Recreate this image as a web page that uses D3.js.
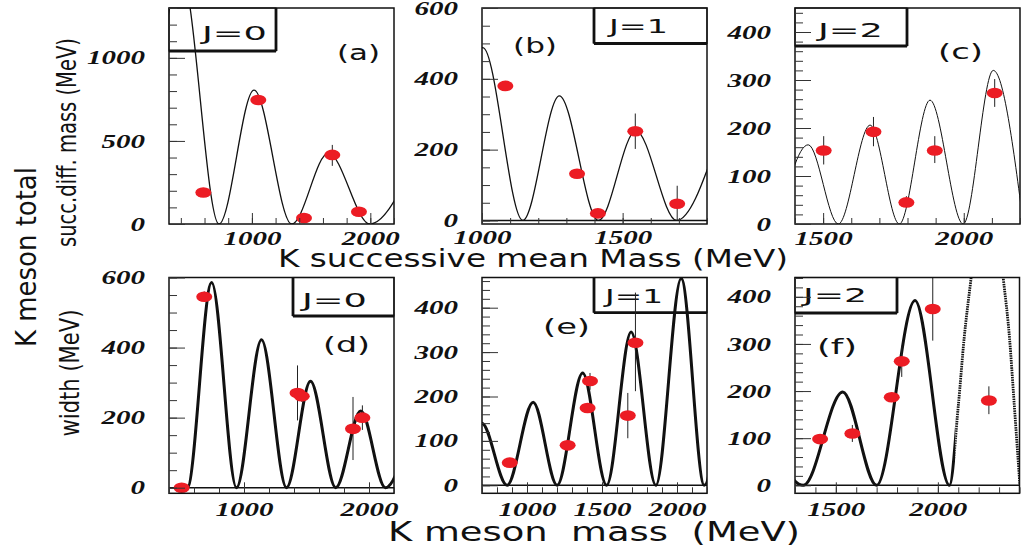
<!DOCTYPE html>
<html>
<head>
<meta charset="utf-8">
<script src="https://cdn.jsdelivr.net/npm/d3@7"></script>
<style>
  html, body { margin: 0; padding: 0; background: #fff; }
  svg { display: block; }
</style>
</head>
<body>
<svg id="chart" width="1025" height="553"></svg>
<script>
// ---------------------------------------------------------------
// Curves: [mass (MeV), value (MeV)] at zeros and extrema of each oscillation
// Points: [mass (MeV), value (MeV), lower error end, upper error end]
// ---------------------------------------------------------------
const curveA = [[87,0],[406,1500],[722,0],[1018,806],[1336,0],[1645,426],[1997,0],[2320,290]];
const pointsA = [[590,190,190,190],[1054,746,728,766],[1440,36,36,36],[1679,416,350,476],[1904,74,74,74]];

const curveB = [[855,0],[1003,488],[1145,0],[1275,352],[1414,0],[1547,253],[1692,0],[1827,200]];
const pointsB = [[1083,380,380,380],[1338,132,132,132],[1412,20,20,20],[1545,252,202,302],[1694,47,0,98]];

const curveC = [[1340,0],[1447,165],[1554,0],[1667,206],[1771,0],[1880,258],[1998,0],[2105,320],[2212,0]];
const pointsC = [[1502,153,124,183],[1679,192,162,223],[1796,45,35,58],[1897,153,127,183],[2110,273,244,302]];

const curveD = [[480,0],[546,0],[741,586],[940,0],[1140,422],[1340,0],[1532,304],[1734,0],[1934,219],[2131,0],[2330,165]];
const pointsD = [[501,0,0,0],[682,545,535,560],[1428,270,192,349],[1462,261,245,280],[1872,168,79,259],[1947,200,165,235]];

const curveE = [[530,0],[698,140],[867,0],[1041,187],[1201,0],[1371,253],[1531,0],[1694,345],[1859,0],[2028,466],[2182,0],[2345,620]];
const pointsE = [[885,51,51,51],[1271,90,90,90],[1404,174,174,174],[1420,235,215,253],[1672,157,106,208],[1723,321,212,434]];

const curveF = [[1150,140],[1341,0],[1534,198],[1700,0],[1888,392],[2057,0],[2101,173],[2129,313],[2162,437],[2240,720],[2321,437],[2351,313],[2374,173],[2402,0]];
const pointsF = [[1423,98,98,98],[1581,110,92,128],[1774,187,187,187],[1823,263,230,296],[1975,374,307,441],[2250,180,151,210]];

// Tick labels per panel
const xTicksA = [1000, 2000],        yTicksA = [0, 500, 1000];
const xTicksB = [1000, 1500],        yTicksB = [0, 200, 400, 600];
const xTicksC = [1500, 2000],        yTicksC = [0, 100, 200, 300, 400];
const xTicksD = [1000, 2000],        yTicksD = [0, 200, 400, 600];
const xTicksE = [1000, 1500, 2000],  yTicksE = [0, 100, 200, 300, 400];
const xTicksF = [1500, 2000],        yTicksF = [0, 100, 200, 300, 400];

const spinLabels = ["J=0", "J=1", "J=2", "J=0", "J=1", "J=2"];
const panelTags = ["(a)", "(b)", "(c)", "(d)", "(e)", "(f)"];

// ---------------------------------------------------------------
// Layout
// ---------------------------------------------------------------
const RED = "#ec1c24";
const SANS = "'DejaVu Sans', 'Liberation Sans', sans-serif";
const NARROW = "'Liberation Sans Narrow', 'DejaVu Sans Condensed', 'Liberation Sans', sans-serif";
const NUMF = "'Liberation Serif', 'Times New Roman', serif";
const fmt = d3.format("d");

const panels = [
  { curve: curveA, pts: pointsA, xt: xTicksA, yt: yTicksA, frame: [169, 8, 394, 224],
    xDom: [300, 2200], yDom: [0, 1300], xMinor: [400, 200], yMinor: 100, lw: 1.3,
    box: [169, 8, 276, 51], shadow: "rb", spinAt: [234.5, 40, 65], tagAt: [358.5, 60, 43], labPad: 8 },
  { curve: curveB, pts: pointsB, xt: xTicksB, yt: yTicksB, frame: [482, 8, 707, 224],
    xDom: [1000, 1800], yDom: [-10, 600], xMinor: [1000, 100], yMinor: 50, lw: 1.3,
    box: [594, 8, 707, 43.5], shadow: "lb", spinAt: [638.5, 33, 59], tagAt: [535, 53, 44], labPad: 7 },
  { curve: curveC, pts: pointsC, xt: xTicksC, yt: yTicksC, frame: [795, 8, 1020, 224],
    xDom: [1400, 2200], yDom: [0, 450], xMinor: [1400, 100], yMinor: 20, lw: 1.0,
    box: [795, 8, 907, 46], shadow: "rb", spinAt: [850.5, 37, 65], tagAt: [960.5, 59, 45], labPad: 8 },
  { curve: curveD, pts: pointsD, xt: xTicksD, yt: yTicksD, frame: [169, 277.5, 394, 493.3],
    xDom: [400, 2200], yDom: [-16, 600], xMinor: [400, 200], yMinor: 50, lw: 3,
    box: [293, 277.5, 394, 316], shadow: "lb", spinAt: [334.5, 307, 65], tagAt: [346.5, 352, 47], labPad: 9 },
  { curve: curveE, pts: pointsE, xt: xTicksE, yt: yTicksE, frame: [482, 277.5, 707, 493.3],
    xDom: [700, 2200], yDom: [-18, 468], xMinor: [700, 100], yMinor: 20, lw: 3,
    box: [594, 277.5, 707, 312.7], shadow: "lb", spinAt: [634, 303, 58], tagAt: [566.5, 334, 47], labPad: 9 },
  { curve: curveF, pts: pointsF, xt: xTicksF, yt: yTicksF, frame: [795, 277.5, 1019.5, 493.3],
    xDom: [1300, 2400], yDom: [-17, 441], xMinor: [1300, 100], yMinor: 20, lw: 3,
    box: [795, 277.5, 897, 313], shadow: "rb", spinAt: [835, 302, 64], tagAt: [837, 354, 40], labPad: 9,
    dottedFrom: 2085 }
];

const svg = d3.select("#chart");
svg.append("rect").attr("width", 1025).attr("height", 553).attr("fill", "#fff");
const defs = svg.append("defs");

panels.forEach((p, i) => {
  const [fx0, fy0, fx1, fy1] = p.frame;
  const x = d3.scaleLinear().domain(p.xDom).range([fx0, fx1]);
  const y = d3.scaleLinear().domain(p.yDom).range([fy1, fy0]);
  const g = svg.append("g");

  const clipId = "clip" + i;
  defs.append("clipPath").attr("id", clipId)
    .append("rect").attr("x", fx0).attr("y", fy0).attr("width", fx1 - fx0).attr("height", fy1 - fy0);

  // spin label box with shadowed edges
  const [bx0, by0, bx1, by1] = p.box;
  g.append("rect").attr("x", bx0).attr("y", by0).attr("width", bx1 - bx0).attr("height", by1 - by0)
    .attr("fill", "#fff").attr("stroke", "#111").attr("stroke-width", 1.1);
  const sh = g.append("g").attr("stroke", "#111").attr("stroke-width", 2.8);
  sh.append("line").attr("x1", bx0).attr("x2", bx1).attr("y1", by1).attr("y2", by1);
  if (p.shadow === "rb") sh.append("line").attr("x1", bx1).attr("x2", bx1).attr("y1", by0).attr("y2", by1);
  else sh.append("line").attr("x1", bx0).attr("x2", bx0).attr("y1", by0).attr("y2", by1);
  g.append("text").attr("x", p.spinAt[0]).attr("y", p.spinAt[1])
    .attr("text-anchor", "middle").attr("font-family", SANS).attr("font-size", 20)
    .attr("fill", "#111").attr("textLength", p.spinAt[2]).attr("lengthAdjust", "spacingAndGlyphs")
    .text(spinLabels[i]);

  // panel tag
  g.append("text").attr("x", p.tagAt[0]).attr("y", p.tagAt[1])
    .attr("text-anchor", "middle").attr("font-family", SANS).attr("font-size", 22)
    .attr("fill", "#111").attr("textLength", p.tagAt[2]).attr("lengthAdjust", "spacingAndGlyphs")
    .text(panelTags[i]);

  // zero line where the range dips below zero
  if (p.yDom[0] < 0) {
    g.append("line").attr("x1", fx0).attr("x2", fx1).attr("y1", y(0)).attr("y2", y(0))
      .attr("stroke", "#111").attr("stroke-width", 1.6);
  }

  // oscillating curve
  const line = d3.line().x(d => x(d[0])).y(d => y(d[1])).curve(d3.curveMonotoneX);
  const cg = g.append("g").attr("clip-path", `url(#${clipId})`);
  if (p.dottedFrom) {
    const cut = x(p.dottedFrom);
    const solidId = "solid" + i, dotId = "dot" + i;
    defs.append("clipPath").attr("id", solidId).append("rect")
      .attr("x", fx0).attr("y", fy0).attr("width", cut - fx0).attr("height", fy1 - fy0);
    defs.append("clipPath").attr("id", dotId).append("rect")
      .attr("x", cut).attr("y", fy0).attr("width", fx1 - cut).attr("height", fy1 - fy0);
    cg.append("path").datum(p.curve).attr("d", line).attr("fill", "none")
      .attr("stroke", "#111").attr("stroke-width", p.lw).attr("clip-path", `url(#${solidId})`);
    cg.append("path").datum(p.curve).attr("d", line).attr("fill", "none")
      .attr("stroke", "#111").attr("stroke-width", 2.8).attr("stroke-dasharray", "1.5,0.9")
      .attr("clip-path", `url(#${dotId})`);
  } else {
    cg.append("path").datum(p.curve).attr("d", line).attr("fill", "none")
      .attr("stroke", "#111").attr("stroke-width", p.lw);
  }

  // data points with error bars
  const pg = g.append("g").attr("clip-path", `url(#${clipId})`);
  pg.selectAll("line.err").data(p.pts.filter(d => d[3] > d[2])).join("line")
    .attr("x1", d => x(d[0])).attr("x2", d => x(d[0]))
    .attr("y1", d => y(d[2])).attr("y2", d => y(d[3]))
    .attr("stroke", "#222").attr("stroke-width", 1);
  pg.selectAll("ellipse").data(p.pts).join("ellipse")
    .attr("cx", d => x(d[0])).attr("cy", d => y(d[1]))
    .attr("rx", 8).attr("ry", 5.3).attr("fill", RED);

  // frame
  g.append("rect").attr("x", fx0).attr("y", fy0).attr("width", fx1 - fx0).attr("height", fy1 - fy0)
    .attr("fill", "none").attr("stroke", "#111").attr("stroke-width", 1.5);

  // axes: ticks point into the frame
  const styleNums = sel => sel.selectAll("text")
    .attr("font-family", NUMF).attr("font-size", 19).attr("font-weight", "bold")
    .attr("font-style", "italic").attr("fill", "#111")
    .attr("textLength", d => fmt(d).length * 14.5).attr("lengthAdjust", "spacingAndGlyphs");

  const yMin = d3.range(0, p.yDom[1] + 0.001, p.yMinor);
  svg.append("g").attr("transform", `translate(${fx0},0)`)
    .call(d3.axisLeft(y).tickValues(yMin).tickSizeInner(-8).tickSizeOuter(0).tickFormat(""))
    .call(a => a.select(".domain").remove())
    .call(a => a.selectAll("line").attr("stroke", "#333").attr("stroke-width", 1));
  svg.append("g").attr("transform", `translate(${fx0},0)`)
    .call(d3.axisLeft(y).tickValues(p.yt).tickFormat(fmt).tickSizeInner(-16).tickSizeOuter(0).tickPadding(24))
    .call(a => a.select(".domain").remove())
    .call(a => a.selectAll("line").attr("stroke", "#333").attr("stroke-width", 1))
    .call(styleNums);

  const xMin = d3.range(p.xMinor[0], p.xDom[1] + 0.001, p.xMinor[1]);
  svg.append("g").attr("transform", `translate(0,${fy1})`)
    .call(d3.axisBottom(x).tickValues(xMin).tickSizeInner(-6).tickSizeOuter(0).tickFormat(""))
    .call(a => a.select(".domain").remove())
    .call(a => a.selectAll("line").attr("stroke", "#333").attr("stroke-width", 1));
  svg.append("g").attr("transform", `translate(0,${fy1})`)
    .call(d3.axisBottom(x).tickValues(p.xt).tickFormat(fmt).tickSizeInner(-11).tickSizeOuter(0).tickPadding(p.labPad))
    .call(a => a.select(".domain").remove())
    .call(a => a.selectAll("line").attr("stroke", "#333").attr("stroke-width", 1))
    .call(styleNums);
});

// axis titles
svg.append("text").attr("x", 533).attr("y", 267).attr("text-anchor", "middle")
  .attr("font-family", SANS).attr("font-size", 24).attr("fill", "#111")
  .attr("textLength", 510).attr("lengthAdjust", "spacingAndGlyphs")
  .text("K successive mean Mass (MeV)");
svg.append("text").attr("x", 594).attr("y", 541).attr("text-anchor", "middle")
  .attr("font-family", SANS).attr("font-size", 27).attr("fill", "#111")
  .style("white-space", "pre")
  .attr("textLength", 412).attr("lengthAdjust", "spacingAndGlyphs")
  .text("K meson  mass  (MeV)");

const vTitle = (tx, ty, size, len, str) => svg.append("text")
  .attr("transform", `translate(${tx},${ty}) rotate(-90)`).attr("text-anchor", "middle")
  .attr("font-family", NARROW).attr("font-size", size).attr("fill", "#111")
  .attr("textLength", len).attr("lengthAdjust", "spacingAndGlyphs").text(str);
vTitle(36, 257, 29, 180, "K meson total");
vTitle(76, 142.5, 27, 209, "succ.diff. mass (MeV)");
vTitle(79, 373, 27, 127, "width (MeV)");
</script>
</body>
</html>
